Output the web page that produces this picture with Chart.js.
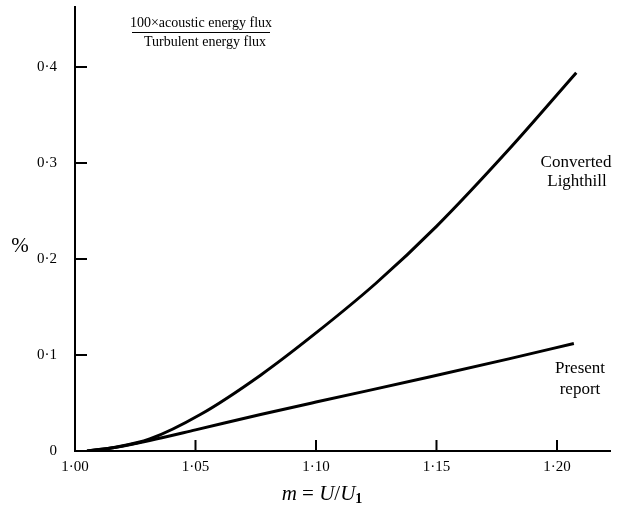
<!DOCTYPE html>
<html>
<head>
<meta charset="utf-8">
<script src="https://cdn.jsdelivr.net/npm/chart.js@4/dist/chart.umd.min.js"></script>
<style>
  html, body { margin: 0; padding: 0; background: #fff; }
  #wrap { width: 620px; height: 516px; }
</style>
</head>
<body>
<div id="wrap"><canvas id="chart" width="620" height="516"></canvas></div>
<script>
// DATA
const xTicks = [1.0, 1.05, 1.1, 1.15, 1.2];
const xTickLabels = ["1·00", "1·05", "1·10", "1·15", "1·20"];
const yTicks = [0, 0.1, 0.2, 0.3, 0.4];
const yTickLabels = ["0", "0·1", "0·2", "0·3", "0·4"];

// converted Lighthill curve
const mLighthill = [1.005, 1.017, 1.031, 1.052, 1.077, 1.1, 1.125, 1.15, 1.18, 1.208];
const lighthillVals = [0, 0.004, 0.0125, 0.038, 0.079, 0.123, 0.175, 0.234, 0.314, 0.394];

// present report curve
const mPresent = [1.005, 1.017, 1.031, 1.05, 1.077, 1.1, 1.147, 1.18, 1.207];
const presentVals = [0, 0.004, 0.011, 0.022, 0.038, 0.051, 0.077, 0.096, 0.112];

const SERIF = "'Liberation Serif', 'DejaVu Serif', serif";

// TICK MARKS AND TEXT
const extras = {
  id: "extras",
  afterDraw(chart) {
    const ctx = chart.ctx, area = chart.chartArea;
    const xs = chart.scales.x, ys = chart.scales.y;
    ctx.save();
    ctx.strokeStyle = "#000";
    ctx.lineWidth = 2;
    xTicks.slice(1).forEach((v) => {
      const px = xs.getPixelForValue(v);
      ctx.beginPath();
      ctx.moveTo(px, area.bottom);
      ctx.lineTo(px, area.bottom - 11);
      ctx.stroke();
    });
    yTicks.slice(1).forEach((v) => {
      const py = ys.getPixelForValue(v);
      ctx.beginPath();
      ctx.moveTo(area.left, py);
      ctx.lineTo(area.left + 12, py);
      ctx.stroke();
    });

    ctx.fillStyle = "#000";
    ctx.textAlign = "center";
    ctx.textBaseline = "middle";
    ctx.font = "14px " + SERIF;
    ctx.fillText("100×acoustic energy flux", 201, 23);
    ctx.fillText("Turbulent energy flux", 205, 42);
    ctx.lineWidth = 1.2;
    ctx.beginPath();
    ctx.moveTo(132, 32.5);
    ctx.lineTo(270, 32.5);
    ctx.stroke();

    ctx.font = "17px " + SERIF;
    ctx.fillText("Converted", 576, 163);
    ctx.fillText("Lighthill", 577, 182);
    ctx.fillText("Present", 580, 369);
    ctx.fillText("report", 580, 390);

    ctx.font = "21px " + SERIF;
    ctx.fillText("%", 20, 246);

    // axis title m = U/U1
    const parts = [
      ["m", "italic 21px " + SERIF, 0],
      [" = ", "21px " + SERIF, 0],
      ["U", "italic 21px " + SERIF, 0],
      ["/", "21px " + SERIF, 0],
      ["U", "italic 21px " + SERIF, 0],
      ["1", "bold 14px " + SERIF, 5]
    ];
    let w = 0;
    parts.forEach((p) => { ctx.font = p[1]; w += ctx.measureText(p[0]).width; });
    let x = 322 - w / 2;
    ctx.textAlign = "left";
    parts.forEach((p) => {
      ctx.font = p[1];
      ctx.fillText(p[0], x, 494 + p[2]);
      x += ctx.measureText(p[0]).width;
    });
    ctx.restore();
  }
};

const line = (data) => ({
  data: data,
  borderColor: "#000",
  borderWidth: 3,
  pointRadius: 0,
  fill: false,
  cubicInterpolationMode: "monotone"
});

new Chart(document.getElementById("chart"), {
  type: "line",
  data: {
    datasets: [
      line(mLighthill.map((m, i) => ({ x: m, y: lighthillVals[i] }))),
      line(mPresent.map((m, i) => ({ x: m, y: presentVals[i] })))
    ]
  },
  options: {
    responsive: false,
    animation: false,
    events: [],
    layout: { padding: { top: 7, right: 10, left: 0, bottom: 0 } },
    plugins: { legend: { display: false }, tooltip: { enabled: false } },
    scales: {
      x: {
        type: "linear",
        min: 1.0,
        max: 1.222,
        afterBuildTicks: (s) => { s.ticks = xTicks.map((v) => ({ value: v })); },
        afterFit: (s) => { s.height = 65; s.paddingLeft = 0; s.paddingRight = 0; },
        grid: { display: false, drawTicks: false },
        border: { display: true, color: "#000", width: 2 },
        ticks: {
          color: "#000",
          padding: 7,
          maxRotation: 0,
          font: { family: SERIF, size: 15 },
          callback: (v) => xTickLabels[xTicks.indexOf(v)]
        }
      },
      y: {
        min: 0,
        max: 0.4625,
        afterBuildTicks: (s) => { s.ticks = yTicks.map((v) => ({ value: v })); },
        afterFit: (s) => { s.width = 75; s.paddingTop = 0; s.paddingBottom = 0; },
        grid: { display: false, drawTicks: false },
        border: { display: true, color: "#000", width: 2 },
        ticks: {
          color: "#000",
          padding: 18,
          font: { family: SERIF, size: 15 },
          callback: (v) => yTickLabels[yTicks.indexOf(v)]
        }
      }
    }
  },
  plugins: [extras]
});
</script>
</body>
</html>
